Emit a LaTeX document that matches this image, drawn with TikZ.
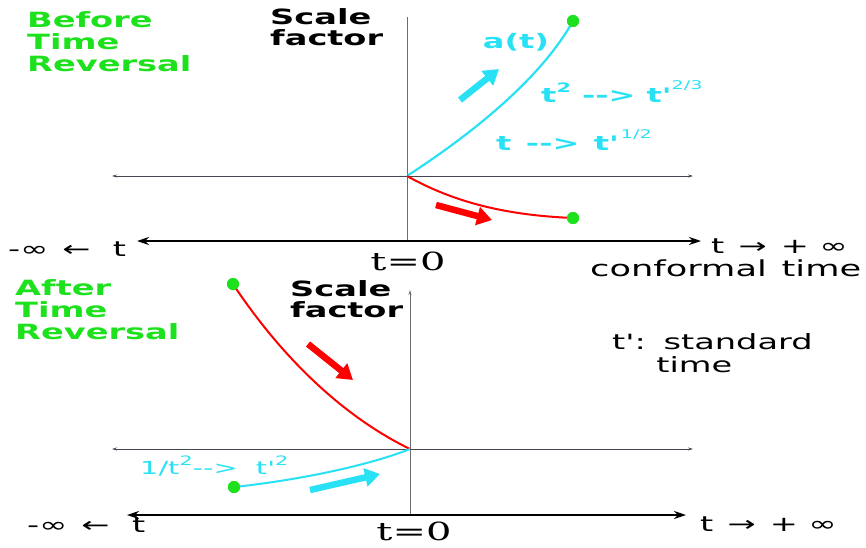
\documentclass[tikz,border=0pt]{standalone}
\usepackage{fontspec}
\setmainfont{DejaVu Sans}[FakeStretch=1.6,Ligatures=TeXOff]
\newfontfamily\tzerofont{DejaVu Serif}[FakeStretch=1.6,Ligatures=TeXOff]
\usetikzlibrary{arrows.meta}
\definecolor{dotgreen}{RGB}{30,225,30}
\definecolor{curvecyan}{RGB}{40,225,245}
\definecolor{axisgray}{RGB}{70,70,80}
\newcommand{\upidx}[1]{\raisebox{0.5em}{\fontsize{13}{13}\selectfont #1}}

\begin{document}
\begin{tikzpicture}[x=1pt,y=-1pt,font=\fontsize{21}{23}\selectfont,
  title/.style={text=dotgreen,font=\fontsize{21}{22}\selectfont\bfseries,align=left,anchor=north west,inner sep=0pt},
  scalelbl/.style={font=\fontsize{21}{21}\selectfont\bfseries,align=left,anchor=north west,inner sep=0pt},
  plain/.style={inner sep=0pt},
  dot/.style={circle,fill=dotgreen,minimum size=12pt,inner sep=0pt},
  thinaxis/.style={axisgray,line width=0.7pt,{Stealth[length=5pt,width=3pt]}-{Stealth[length=5pt,width=3pt]}},
  thickaxis/.style={black,line width=2.6pt,{Stealth[length=12pt,width=8pt]}-{Stealth[length=12pt,width=8pt]}},
  vaxis/.style={axisgray!80,line width=0.8pt},
  fatarrow/.style={line width=6.5pt,-{Triangle[length=15pt,width=18pt]}}]
\useasboundingbox (0,0) rectangle (866,547);

% before time reversal
\node[title] (before) at (27,11) {Before\\Time\\Reversal};
\node[scalelbl] (sf1) at (270,8) {Scale\\factor};
\coordinate (o1) at (407,176);
\coordinate (v1top) at (407,17);
\coordinate (v1bot) at (407,241);
\coordinate (h1l) at (112,176);
\coordinate (h1r) at (693,176);
\coordinate (b1l) at (137,241);
\coordinate (b1r) at (701,241);
\draw[vaxis] (v1top) -- (v1bot);
\draw[thinaxis] (h1l) -- (h1r);
\draw[thickaxis] (b1l) -- (b1r);
\node[dot] (g1) at (573,21) {};
\node[dot] (g2) at (573,218) {};
\draw[curvecyan,line width=2.2pt] (o1) .. controls (470,135) and (540,80) .. (g1.center);
\draw[red,line width=2pt] (o1) .. controls (450,200) and (500,215) .. (g2.center);
\node[dot] at (g1) {};
\node[dot] at (g2) {};
\coordinate (ca1) at (460,100);
\coordinate (ca2) at (499,69);
\draw[fatarrow,curvecyan] (ca1) -- (ca2);
\coordinate (ra1) at (436,205);
\coordinate (ra2) at (492,220);
\draw[fatarrow,red] (ra1) -- (ra2);
\node[plain,text=curvecyan,font=\fontsize{20}{22}\selectfont\bfseries] (at) at (516,42) {a(t)};
\node[plain,text=curvecyan,font=\fontsize{20}{22}\selectfont\bfseries,anchor=west] (law1) at (541,92) {t\upidx{2} -{}-> t'\raisebox{0.65em}{\fontsize{12}{12}\selectfont\mdseries 2/3}};
\node[plain,text=curvecyan,font=\fontsize{20}{22}\selectfont\bfseries,anchor=west] (law2) at (496,140) {t \,-{}-> \,t'\raisebox{0.6em}{\fontsize{12}{12}\selectfont\mdseries\,1/2}};
\node[plain,anchor=west] (minf1) at (8,249) {-∞\, ←\;\; t};
\node[plain,anchor=west] (pinf1) at (711,246) {t \,→ \,+ ∞};
\node[plain,anchor=west,font=\fontsize{22}{24}\selectfont] (conf) at (590,268) {conformal \,time};
\node[plain,font=\tzerofont\fontsize{25}{27}\selectfont] (t01) at (408,261) {t=0};

% after time reversal
\node[title] (after) at (15,279) {After\\Time\\Reversal};
\node[scalelbl] (sf2) at (290,280) {Scale\\factor};
\coordinate (o2) at (410,449);
\coordinate (v2top) at (410,290);
\coordinate (v2bot) at (410,516);
\coordinate (h2l) at (112,449);
\coordinate (h2r) at (693,449);
\coordinate (b2l) at (127,515);
\coordinate (b2r) at (686,515);
\draw[vaxis,-{Stealth[length=5pt,width=3pt]}] (v2bot) -- (v2top);
\draw[thinaxis] (h2l) -- (h2r);
\draw[thickaxis] (b2l) -- (b2r);
\node[dot] (g3) at (233,284) {};
\node[dot] (g4) at (234,487) {};
\draw[red,line width=2pt] (g3.center) .. controls (270,340) and (330,410) .. (o2);
\draw[curvecyan,line width=2pt] (g4.center) .. controls (300,480) and (370,465) .. (o2);
\node[dot] at (g3) {};
\node[dot] at (g4) {};
\coordinate (ra3) at (308,344);
\coordinate (ra4) at (353,380);
\draw[fatarrow,red] (ra3) -- (ra4);
\coordinate (ca3) at (310,490);
\coordinate (ca4) at (380,474);
\draw[fatarrow,curvecyan] (ca3) -- (ca4);
\node[plain,text=curvecyan,anchor=west,font=\fontsize{18}{20}\selectfont] (law3) at (140,466) {1/t\upidx{2}-{}-> \ t'\upidx{2}};
\node[plain,anchor=north west,align=left] (std) at (612,333) {t':\, standard\\\phantom{t':\,\,\,}time};
\node[plain,anchor=west] (minf2) at (27,525) {-∞\, ←\;\; t};
\node[plain,anchor=west] (pinf2) at (700,524) {t \,→ \,+ ∞};
\node[plain,font=\tzerofont\fontsize{25}{27}\selectfont] (t02) at (414,531) {t=0};
\end{tikzpicture}
\end{document}
